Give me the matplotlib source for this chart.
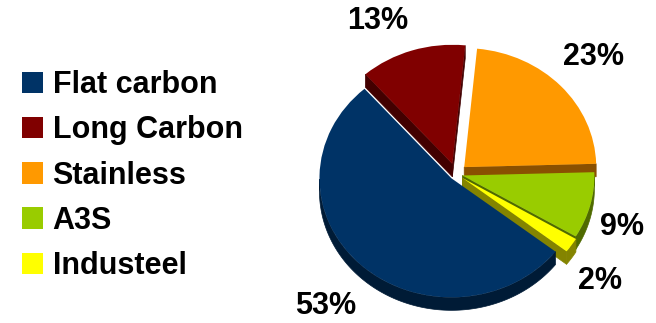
import numpy as np
import matplotlib
matplotlib.use("Agg")
import matplotlib.pyplot as plt
from matplotlib.patches import Polygon, Patch

# Product mix, share of total (%)
categories = ["Flat carbon", "Long Carbon", "Stainless", "A3S", "Industeel"]
shares = [53, 13, 23, 9, 2]

top_colors = ["#003366", "#800000", "#FF9900", "#99CC00", "#FFFF00"]
side_colors = ["#001B36", "#420000", "#8A5000", "#4F6A00", "#848400"]
explode_frac = [0.05, 0.09, 0.085, 0.05, 0.06]

W, H = 656, 323
fig = plt.figure(figsize=(W / 100, H / 100), dpi=100)
ax = fig.add_axes([0, 0, 1, 1])

# Tilted disc: a circle in data units, squashed vertically on screen
R = 132.0
squash = 119.0 / 132.0
depth = 13.0 / squash
cx, cy = 456.0, (H - 174.0) / squash

wedges, _ = ax.pie(
    shares,
    colors=top_colors,
    startangle=-38,
    counterclock=False,
    explode=[e * R for e in explode_frac],
    radius=R,
    center=(cx, cy),
    frame=True,
    wedgeprops=dict(linewidth=0, antialiased=True),
)
ax.set_aspect("auto")
ax.set_xlim(0, W)
ax.set_ylim(0, H / squash)
ax.axis("off")


def draw_sides(w, color, z):
    x0, y0 = w.center
    r = w.r
    t1, t2 = np.radians(w.theta1), np.radians(w.theta2)
    # rim facing the viewer
    ts = np.linspace(t1, t2, 400)
    front = np.sin(ts) < 0
    idx = np.flatnonzero(front)
    if idx.size:
        runs = np.split(idx, np.flatnonzero(np.diff(idx) > 1) + 1)
        for run in runs:
            tt = ts[run]
            xs = x0 + r * np.cos(tt)
            ys = y0 + r * np.sin(tt)
            pts = np.vstack([np.column_stack([xs, ys]),
                             np.column_stack([xs[::-1], ys[::-1] - depth])])
            ax.add_patch(Polygon(pts, closed=True, facecolor=color,
                                 edgecolor=color, linewidth=0.5, zorder=z))
    # radial cut faces turned towards the viewer
    for t, visible in ((t1, np.cos(t1) > 0), (t2, np.cos(t2) < 0)):
        if visible:
            xr, yr = x0 + r * np.cos(t), y0 + r * np.sin(t)
            pts = [(x0, y0), (xr, yr), (xr, yr - depth), (x0, y0 - depth)]
            ax.add_patch(Polygon(pts, closed=True, facecolor=color,
                                 edgecolor=color, linewidth=0.5, zorder=z))


# back-to-front painting order
order = [1, 2, 3, 4, 0]
for rank, i in enumerate(order):
    z = 2 + rank * 2
    draw_sides(wedges[i], side_colors[i], z)
    wedges[i].set_zorder(z + 1)

# percentage labels
label_font = dict(family="Liberation Sans", weight="bold", size=22)
label_px = [(326, 306), (378, 21), (594, 57), (622, 227), (600, 281)]
for v, (px, py) in zip(shares, label_px):
    ax.text(px, (H - py) / squash, f"{v}%", ha="center", va="center",
            zorder=20, **label_font)

handles = [Patch(facecolor=c, edgecolor="none") for c in top_colors]
fig.legend(handles, categories, loc="upper left",
           bbox_to_anchor=(22 / W, 1 - 70 / H), bbox_transform=fig.transFigure,
           frameon=False, prop=label_font, handlelength=0.7, handleheight=0.7,
           handletextpad=0.3, labelspacing=0.5, borderpad=0, borderaxespad=0)

fig.savefig("out.png", dpi=100)
